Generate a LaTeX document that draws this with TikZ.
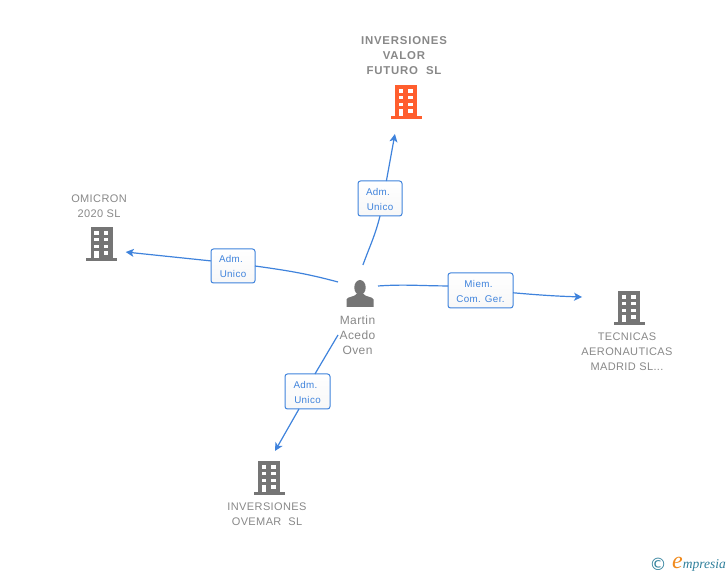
\documentclass[tikz,border=0pt]{standalone}
\usepackage{fontspec}
\setmainfont{Liberation Sans}
\newfontfamily\spacedfont[LetterSpace=3.5]{Liberation Sans}
\newfontfamily\boldspacedfont[LetterSpace=7]{Liberation Sans Bold}
\newfontfamily\logofont{Liberation Serif}
\usetikzlibrary{arrows.meta}
\definecolor{linkblue}{HTML}{3F83DC}
\definecolor{iconcol}{HTML}{757575}
\definecolor{mainorange}{HTML}{FF5E2E}
\definecolor{namegrey}{HTML}{888888}
\definecolor{logoteal}{HTML}{2F7F9B}
\definecolor{logoorange}{HTML}{F08A1D}
\newcommand{\rolehead}[1]{\rule{0pt}{9pt}#1\kern4pt}
\tikzset{
  pics/building/.style = {code = {
    \fill[#1] (-11, -15.5) rectangle (11, 16);
    \fill[#1] (-15.5, -18) rectangle (15.5, -15.5);
    \foreach \wy in {8.3, 1.7, -5} {
      \fill[white] (-7.5, \wy) rectangle (-3, \wy + 3.4);
      \fill[white] (2, \wy) rectangle (6.5, \wy + 3.4);
    }
    \fill[white] (-7.5, -15.5) rectangle (-3, -8.3);
    \fill[white] (2, -11.7) rectangle (6.5, -8.3);
  }},
  pics/person/.style = {code = {
    \fill[iconcol] (0, 7.5) ellipse (5.7 and 7.5);
    \fill[iconcol] (-13.5, -12) -- (-13.5, -4.5) .. controls (-13, -1.5) and (-5, -2) .. (-3.5, 1)
      -- (3.5, 1) .. controls (5, -2) and (13, -1.5) .. (13.5, -4.5) -- (13.5, -12) -- cycle;
  }}
}
\begin{document}
\begin{tikzpicture}[x = 1pt, y = 1pt,
    hub/.style = {circle, inner sep = 0pt, outer sep = 0pt},
    link/.style = {draw = linkblue, line width = 1.2pt},
    role/.style = {draw = linkblue, line width = 1pt, rounded corners = 2.5pt, inner sep = 0pt, outer sep = 0pt,
      top color = white, bottom color = black!3, text = linkblue, align = center, font = \spacedfont\fontsize{9.8}{15}\selectfont},
    nametxt/.style = {text = namegrey, align = center, inner sep = 0pt, font = \spacedfont\fontsize{11}{15}\selectfont}]
  \useasboundingbox (0, 0) rectangle (728, 575);

  % buildings and the person
  \pic at (406, 474) {building = mainorange};
  \pic at (101.5, 332) {building = iconcol};
  \pic at (629, 268) {building = iconcol};
  \pic at (269, 98) {building = iconcol};
  \pic at (360, 280) {person};

  \node[hub, minimum size = 69pt] (valor) at (405, 474) {};
  \node[hub, minimum size = 52pt] (omicron) at (101, 331) {};
  \node[hub, minimum size = 96pt] (tecnicas) at (629, 268) {};
  \node[hub, minimum size = 53.4pt] (ovemar) at (269, 98) {};
  \node[minimum width = 40pt, minimum height = 70pt, inner sep = 0pt, outer sep = 0pt] (martin) at (358, 275) {};

  % names
  \node[nametxt, font = \boldspacedfont\fontsize{11.4}{15}\selectfont] (valortxt) at (404, 519) {INVERSIONES\\VALOR\\FUTURO\ \ SL};
  \node[nametxt] (omicrontxt) at (99, 368.5) {OMICRON\\2020 SL};
  \node[nametxt] (tecnicastxt) at (627, 223) {TECNICAS\\AERONAUTICAS\\MADRID SL...};
  \node[nametxt] (ovemartxt) at (267, 60.5) {INVERSIONES\\OVEMAR\ \ SL};
  \node[nametxt, font = \spacedfont\fontsize{12}{15}\selectfont] (martintxt) at (357.5, 239.5) {Martin\\Acedo\\Oven};

  % role boxes
  \node[role, minimum width = 44pt, minimum height = 35pt] (rolevalor) at (380, 376.5) {\rolehead{Adm.}\\Unico};
  \node[role, minimum width = 44pt, minimum height = 34pt] (roleomicron) at (233, 309) {\rolehead{Adm.}\\Unico};
  \node[role, minimum width = 65pt, minimum height = 35pt] (roletecnicas) at (480.5, 284.5) {\rolehead{Miem.}\\Com. Ger.};
  \node[role, minimum width = 45pt, minimum height = 35pt] (roleovemar) at (307.5, 183.5) {\rolehead{Adm.}\\Unico};

  % connectors
  \draw[link] (martin.82) to[out = 70, in = 256] (rolevalor.south);
  \draw[link, -{Stealth[length = 8pt, width = 8pt, inset = 2pt]}] (rolevalor.70) -- (valor.253);
  \draw[link] (martin.138) to[out = 165, in = -8] (roleomicron.east);
  \draw[link, -{Stealth[length = 8pt, width = 8pt, inset = 2pt]}] (roleomicron.167) -- (omicron.-18);
  \draw[link] (martin.35) to[out = 4, in = 180] (roletecnicas.172);
  \draw[link, -{Stealth[length = 8pt, width = 8pt, inset = 2pt]}] (roletecnicas.-4) to[out = -5, in = 178] (tecnicas.168);
  \draw[link] (martin.south west) -- (roleovemar.67);
  \draw[link, -{Stealth[length = 8pt, width = 8pt, inset = 2pt]}] (roleovemar.244) -- (ovemar.77);

  % logo
  \node[inner sep = 0pt, text = logoteal, font = \fontspec{DejaVu Sans}\fontsize{17}{17}\selectfont] (copysign) at (658, 11) {©};
  \node[inner sep = 0pt, anchor = east, font = \logofont\itshape\fontsize{13.5}{13.5}\selectfont, text = logoteal] (logo) at (726, 11)
    {\textcolor{logoorange}{\fontsize{24}{24}\selectfont e}mpresia};
\end{tikzpicture}
\end{document}
